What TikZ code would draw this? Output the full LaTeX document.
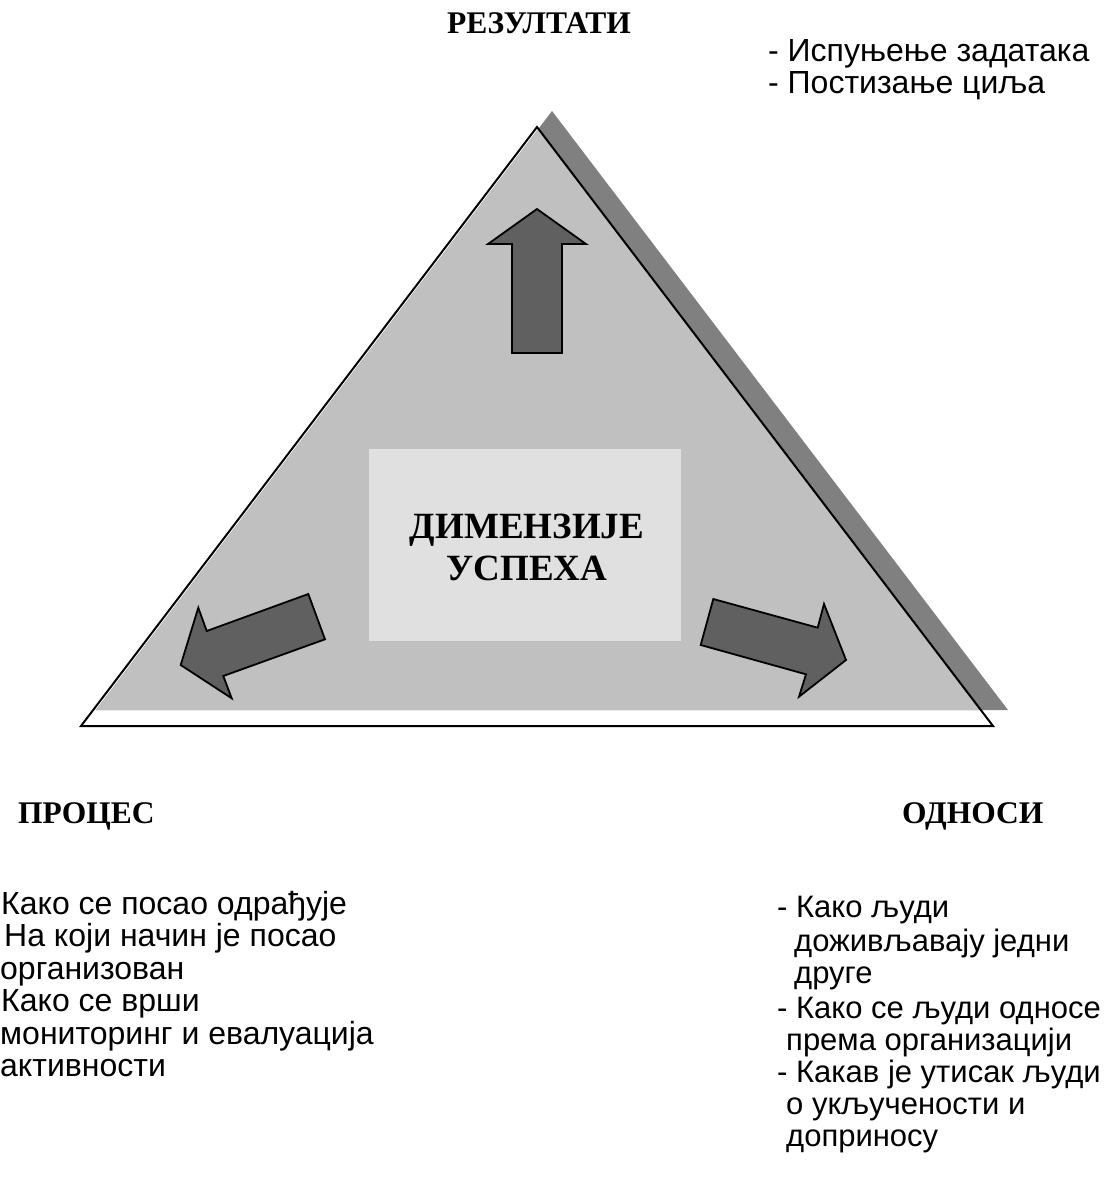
\documentclass[tikz,border=0pt]{standalone}
\usepackage{fontspec}
\setmainfont{Liberation Serif}
\newfontfamily\listfont{Liberation Sans}
\definecolor{trifill}{HTML}{C0C0C0}
\definecolor{trishadow}{HTML}{808080}
\definecolor{arrowfill}{HTML}{606060}
\definecolor{boxfill}{HTML}{E0E0E0}
\begin{document}
\begin{tikzpicture}[x=1pt,y=-1pt,
  label/.style={inner sep=0pt,font=\fontsize{31.5}{36}\selectfont\bfseries,anchor=base},
  listline/.style={inner sep=0pt,font=\listfont\fontsize{31}{36}\selectfont,anchor=base west},
  leftline/.style={listline,font=\listfont\fontsize{32}{36}\selectfont},
  bigarrow/.style={draw=black,line width=1.8pt,fill=arrowfill,line join=miter}]
\useasboundingbox (0,0) rectangle (1116,1184);
% triangle corners
\coordinate (A) at (537,127);
\coordinate (B) at (81,726);
\coordinate (C) at (993,726);
\coordinate (As) at (552,111);
\coordinate (Bs) at (96,710);
\coordinate (Cs) at (1008,710);
% shadow
\fill[trishadow] (As) -- (Bs) -- (Cs) -- cycle;
\begin{scope}
  \clip (As) -- (Bs) -- (Cs) -- cycle;
  \fill[trifill] (A) -- (B) -- (C) -- cycle;
\end{scope}
\draw[line width=2pt,line join=miter] (A) -- (B) -- (C) -- cycle;
% centre box
\node[fill=boxfill,inner sep=0pt,minimum width=312pt,minimum height=192pt] (box) at (525,545) {};
\node[inner sep=0pt,font=\fontsize{37}{42}\selectfont\bfseries,anchor=base] (dim1) at (527,538) {ДИМЕНЗИЈЕ};
\node[inner sep=0pt,font=\fontsize{37}{42}\selectfont\bfseries,anchor=base] (dim2) at (527,580) {УСПЕХА};
% up arrow
\draw[bigarrow] (537,209) -- (586,244) -- (562,244) -- (562,353) -- (512,353) -- (512,244) -- (488,244) -- cycle;
% left arrow
\draw[bigarrow] (180.7,665) -- (198.3,607.7) -- (206.7,631) -- (308.3,594) -- (325,639.3) -- (223.3,676) -- (231.7,698.3) -- cycle;
% right arrow
\draw[bigarrow] (846,660) -- (824,604) -- (817.7,627.7) -- (713.3,599) -- (700.7,645) -- (806,674.3) -- (799,696.7) -- cycle;
% labels
\node[label] (rez) at (539,33) {РЕЗУЛТАТИ};
\node[label,anchor=base west] (proc) at (18,823) {ПРОЦЕС};
\node[label,anchor=base west] (odn) at (902,823) {ОДНОСИ};
% top right list
\node[listline,font=\listfont\fontsize{32}{36}\selectfont] (r1) at (768,61) {- Испуњење задатака};
\node[listline,font=\listfont\fontsize{32}{36}\selectfont] (r2) at (768,93) {- Постизање циља};
% left list
\node[leftline] (p1) at (1,914) {Како се посао одрађује};
\node[leftline] (p2) at (4,946) {На који начин је посао};
\node[leftline] (p3) at (0,979) {организован};
\node[leftline] (p4) at (1,1011) {Како се врши};
\node[leftline] (p5) at (0,1044) {мониторинг и евалуација};
\node[leftline] (p6) at (0,1076) {активности};
% bottom right list
\node[listline] (o1) at (777,917) {- Како људи};
\node[listline] (o2) at (794,951) {доживљавају једни};
\node[listline] (o3) at (794,983) {друге};
\node[listline] (o4) at (777,1018) {- Како се људи односе};
\node[listline] (o5) at (786,1050) {према организацији};
\node[listline] (o6) at (777,1082) {- Какав је утисак људи};
\node[listline] (o7) at (786,1114) {о укључености и};
\node[listline] (o8) at (786,1146) {доприносу};
\end{tikzpicture}
\end{document}
